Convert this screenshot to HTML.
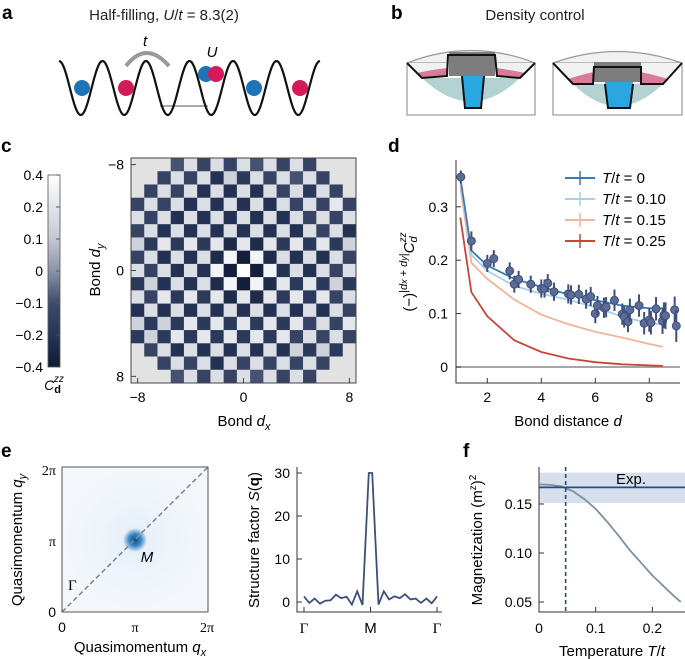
<!DOCTYPE html>
<html><head><meta charset="utf-8"><style>
html,body{margin:0;padding:0;background:#fff}
svg{display:block;font-family:"Liberation Sans",sans-serif}
</style></head><body>
<svg id="fig" width="685" height="659" viewBox="0 0 685 659" xmlns="http://www.w3.org/2000/svg">
<g font-weight="bold" font-size="19">
<text x="2" y="19">a</text>
<text x="391" y="19">b</text>
<text x="1" y="152">c</text>
<text x="388" y="152">d</text>
<text x="1" y="457">e</text>
<text x="463" y="457">f</text>
</g>
<!-- panel a -->
<g>
<text x="164" y="20" font-size="15" text-anchor="middle" fill="#222">Half-filling, <tspan font-style="italic">U</tspan>/<tspan font-style="italic">t</tspan> = 8.3(2)</text>
<line x1="160" y1="106" x2="208" y2="106" stroke="#aaa" stroke-width="2"/>
<path id="wave" fill="none" stroke="#111" stroke-width="2.2"/>
<path d="M126,66 Q146,40 169,66" fill="none" stroke="#999" stroke-width="4"/>
<text x="143" y="46" font-size="15" font-style="italic">t</text>
<text x="212" y="57" font-size="15" font-style="italic" text-anchor="middle">U</text>
<circle cx="82" cy="88" r="8" fill="#1f73b7"/>
<circle cx="126" cy="88" r="8" fill="#d6195b"/>
<circle cx="206" cy="74" r="8" fill="#1f73b7"/>
<circle cx="216" cy="74" r="8" fill="#d6195b"/>
<circle cx="254" cy="88" r="8" fill="#1f73b7"/>
<circle cx="300" cy="88" r="8" fill="#d6195b"/>
</g>
<!-- panel b -->
<g>
<text x="535" y="20" font-size="15" text-anchor="middle" fill="#222">Density control</text>
<g>
<rect x="407" y="63" width="128" height="52" fill="#fff" stroke="#999" stroke-width="1.2"/>
<path d="M407,63 Q471,38 535,63 Z" fill="#f1f1f1" stroke="#999" stroke-width="1.2"/>
<path d="M407,63 L422,78 L447,76 L497,76 L520,78 L535,63 Z" fill="#f1f1f1"/>
<path d="M422,78 Q471,125 520,78 Z" fill="#b4d2d2"/>
<path d="M422,78 L447,76 L447,68 Q430,70 417,73 Z M497,76 L520,78 L525,73 Q510,70 497,68 Z" fill="#d97a98"/>
<rect x="449" y="52" width="46" height="24" fill="#7d7d7d"/>
<path d="M463,76 L466,108 L480,108 L483,76 Z" fill="#2aa6e0"/>
<path d="M407,63 L422,78 L447,76 L448,55 L495,55 L497,76 L520,78 L535,63" fill="none" stroke="#111" stroke-width="2"/>
<path d="M462,76 L465,108 L481,108 L484,76" fill="none" stroke="#111" stroke-width="2"/>
</g>
<g>
<rect x="553" y="63" width="129" height="52" fill="#fff" stroke="#999" stroke-width="1.2"/>
<path d="M553,63 Q617,40 682,63 Z" fill="#f1f1f1" stroke="#999" stroke-width="1.2"/>
<path d="M553,63 L573,84 L663,84 L682,63 Z" fill="#f1f1f1"/>
<path d="M573,84 Q617,128 663,84 Z" fill="#b4d2d2"/>
<path d="M573,84 L594,84 L594,72 Q580,75 568,79 Z M641,84 L663,84 L668,79 Q655,75 641,72 Z" fill="#d97a98"/>
<rect x="594" y="62" width="47" height="20" fill="#7d7d7d"/>
<path d="M605,82 L608,108 L630,108 L633,82 Z" fill="#2aa6e0"/>
<path d="M553,63 L573,84 L593,84 L594,67 L641,67 L641,84 L663,84 L682,63" fill="none" stroke="#111" stroke-width="2"/>
<path d="M605,84 L608,108 L630,108 L633,84" fill="none" stroke="#111" stroke-width="2"/>
</g>
</g>
<!-- panel c -->
<g id="pc">
<defs><linearGradient id="cbg" x1="0" y1="1" x2="0" y2="0">
<stop offset="0" stop-color="#101a35"/><stop offset="0.1667" stop-color="#263556"/><stop offset="0.3333" stop-color="#3e4b6a"/><stop offset="0.5" stop-color="#8a93a8"/><stop offset="0.6667" stop-color="#c3c8d3"/><stop offset="0.8333" stop-color="#e2e4ea"/><stop offset="1" stop-color="#ffffff"/></linearGradient>
<radialGradient id="blob"><stop offset="0" stop-color="#0a4f8c"/><stop offset="0.5" stop-color="#3a86c4"/><stop offset="1" stop-color="#3a86c4" stop-opacity="0"/></radialGradient>
<radialGradient id="ebg"><stop offset="0" stop-color="#e3edf7"/><stop offset="0.5" stop-color="#eef4fa"/><stop offset="1" stop-color="#f3f7fb"/></radialGradient></defs>
<rect x="48" y="175" width="12" height="192" fill="url(#cbg)" stroke="#555" stroke-width="0.8"/>
<g id="cbticks" font-size="14" text-anchor="end"></g>
<text x="54" y="390" font-size="14" text-anchor="middle"><tspan font-style="italic">C</tspan><tspan font-weight="bold" font-size="11" dy="3">d</tspan><tspan font-style="italic" font-size="10" dx="-7" dy="-11">zz</tspan></text>
<g id="heat"></g>
<rect x="131" y="158" width="225" height="225" fill="none" stroke="#444" stroke-width="1"/>
<g id="heatticks" font-size="14"></g>
<text x="244" y="426" font-size="15" text-anchor="middle">Bond <tspan font-style="italic">d</tspan><tspan font-size="11" font-style="italic" dy="4">x</tspan></text>
<text transform="translate(100,270) rotate(-90)" font-size="15" text-anchor="middle">Bond <tspan font-style="italic">d</tspan><tspan font-size="11" font-style="italic" dy="4">y</tspan></text>
</g>
<!-- panel d -->
<g id="pd">
<g id="dplot"></g>
<text x="568" y="426" font-size="15" text-anchor="middle">Bond distance <tspan font-style="italic">d</tspan></text>
<text transform="translate(414,272) rotate(-90)" font-size="15" text-anchor="middle">(−)<tspan font-size="11" dy="-7">|<tspan font-style="italic">d</tspan><tspan font-size="9" font-style="italic">x</tspan> + <tspan font-style="italic">d</tspan><tspan font-size="9" font-style="italic">y</tspan>|</tspan><tspan font-style="italic" dy="7">C</tspan><tspan font-size="11" font-style="italic" dy="3">d</tspan><tspan font-size="10" font-style="italic" dx="-6" dy="-11">zz</tspan></text>
</g>
<!-- panel e -->
<g id="pe">
<rect x="62" y="467" width="146" height="145" fill="url(#ebg)"/>
<circle cx="135" cy="540" r="12" fill="url(#blob)"/>
<line x1="62" y1="612" x2="208" y2="467" stroke="#888" stroke-width="1.6" stroke-dasharray="5,3"/>
<rect x="62" y="467" width="146" height="145" fill="none" stroke="#555" stroke-width="1"/>
<text x="147" y="562" font-size="15" font-style="italic" text-anchor="middle">M</text>
<text x="68" y="590" font-size="15" font-family="Liberation Serif">Γ</text>
<g font-size="14" font-family="Liberation Serif" text-anchor="end">
<text x="56" y="475">2π</text><text x="56" y="546">π</text><text x="56" y="617" font-family="Liberation Sans">0</text></g>
<g font-size="14" font-family="Liberation Serif" text-anchor="middle">
<text x="62" y="632" font-family="Liberation Sans">0</text><text x="135" y="632">π</text><text x="207" y="632">2π</text></g>
<text x="140" y="652" font-size="15" text-anchor="middle">Quasimomentum <tspan font-style="italic">q</tspan><tspan font-size="11" font-style="italic" dy="4">x</tspan></text>
<text transform="translate(22,540) rotate(-90)" font-size="15" text-anchor="middle">Quasimomentum <tspan font-style="italic">q</tspan><tspan font-size="11" font-style="italic" dy="4">y</tspan></text>
<g id="splot"></g>
<text transform="translate(259,540) rotate(-90)" font-size="15" text-anchor="middle">Structure factor <tspan font-style="italic">S</tspan>(<tspan font-weight="bold">q</tspan>)</text>
</g>
<!-- panel f -->
<g id="pf">
<g id="fplot"></g>
<text x="612" y="656" font-size="15" text-anchor="middle">Temperature <tspan font-style="italic">T</tspan>/<tspan font-style="italic">t</tspan></text>
<text transform="translate(482,540) rotate(-90)" font-size="15" text-anchor="middle">Magnetization (m<tspan font-size="10" dy="-6">z</tspan><tspan dy="6">)</tspan><tspan font-size="10" dy="-6">2</tspan></text>
</g>
</svg>
<script>
const NS='http://www.w3.org/2000/svg';
function mk(p,tag,at,txt){const e=document.createElementNS(NS,tag);for(const k in at)e.setAttribute(k,at[k]);if(txt!=null)e.textContent=txt;p.appendChild(e);return e;}

// ---- panel c data ----
const cbTickLabels=['0.4','0.2','0.1','0','−0.1','−0.2','−0.4'];
const cbStopValues=[-0.4,-0.2,-0.1,0,0.1,0.2,0.4];
const cbStopColors=['#101a35','#263556','#3e4b6a','#8a93a8','#c3c8d3','#e2e4ea','#ffffff'];
const heatRows=[
"...24343424343...",
"..3434534434243..",
".343454545434443.",
"34345454545434353",
"43454545454543434",
"34545454545454345",
"34545456565454543",
"34545467876454543",
"43454578987545434",
"43545467876545434",
"43545456565454534",
"54545454545454543",
"34345454545453435",
"43454545454534343",
".345454545453434.",
"..3434543434343..",
"...24343424343..."];
const heatTickLabels=['−8','0','8'];
const heatTickValues=[-8,0,8];

// ---- panel d data ----
const dPointD=[1.02,1.41,2.0,2.24,2.83,3.0,3.16,3.61,4.0,4.12,4.24,4.47,5.0,5.1,5.39,5.66,5.83,6.0,6.08,6.32,6.4,6.71,7.0,7.07,7.21,7.28,7.62,7.81,8.0,8.06,8.25,8.49,8.54,8.6,8.94,9.0];
const dPointV=[0.356,0.236,0.194,0.203,0.180,0.155,0.164,0.155,0.147,0.147,0.157,0.141,0.137,0.135,0.136,0.127,0.132,0.100,0.115,0.111,0.112,0.125,0.099,0.094,0.085,0.107,0.115,0.082,0.088,0.083,0.109,0.086,0.097,0.096,0.107,0.077];
const dPointErr=[0.012,0.018,0.016,0.016,0.016,0.016,0.016,0.016,0.017,0.017,0.017,0.017,0.018,0.018,0.018,0.018,0.018,0.018,0.018,0.019,0.019,0.02,0.02,0.02,0.02,0.021,0.021,0.021,0.022,0.022,0.022,0.024,0.024,0.025,0.025,0.03];
const dLineD=[1,1.41,2,3,4,5,6,7,8,8.5];
const dLineT0=[0.355,0.218,0.19,0.165,0.15,0.136,0.125,0.115,0.11,0.11];
const dLineT10=[0.35,0.21,0.18,0.152,0.137,0.126,0.112,0.094,0.082,0.08];
const dLineT15=[0.338,0.195,0.165,0.126,0.098,0.08,0.066,0.055,0.043,0.038];
const dLineT25=[0.28,0.14,0.095,0.05,0.028,0.016,0.009,0.005,0.003,0.002];
const dLegend=['T/t = 0','T/t = 0.10','T/t = 0.15','T/t = 0.25'];
const dXTicks=[2,4,6,8];
const dYTicks=[0,0.1,0.2,0.3];
const dYTickLabels=['0','0.1','0.2','0.3'];

// ---- panel e data ----
const sQ=[0,0.04,0.08,0.12,0.16,0.2,0.24,0.28,0.32,0.36,0.4,0.44,0.487,0.513,0.56,0.6,0.64,0.68,0.72,0.76,0.8,0.84,0.88,0.92,0.96,1.0];
const sValues=[1.3,-0.2,0.8,-0.4,0.3,0.4,1.7,0.9,1.2,-0.6,2.5,-0.7,30,30,-0.6,2.5,0.6,1.3,0.9,1.8,0.6,0.8,-0.2,0.8,-0.3,1.3];
const sYTicks=[0,10,20,30];
const sXLabels=['Γ','M','Γ'];

// ---- panel f data ----
const fT=[0,0.02,0.04,0.06,0.08,0.10,0.12,0.14,0.16,0.18,0.20,0.22,0.24,0.25];
const fM=[0.170,0.1695,0.168,0.163,0.155,0.145,0.132,0.118,0.103,0.090,0.077,0.066,0.055,0.050];
const fExp=0.167, fExpLo=0.151, fExpHi=0.182, fTexp=0.047;
const fXTicks=[0,0.1,0.2];
const fXTickLabels=['0','0.1','0.2'];
const fYTicks=[0.05,0.10,0.15];
const fYTickLabels=['0.05','0.10','0.15'];

// ---- panel a wave ----
(function(){let d='';for(let x=59;x<=320;x+=1){const y=88-27*Math.cos((x-59)/43.5*2*Math.PI);d+=(x===59?'M':'L')+x+','+y.toFixed(1);}document.getElementById('wave').setAttribute('d',d);})();

// ---- panel c ----
function hex(c){return[parseInt(c.slice(1,3),16),parseInt(c.slice(3,5),16),parseInt(c.slice(5,7),16)];}
function cmap(v){v=Math.max(-0.4,Math.min(0.4,v));for(let i=0;i<cbStopValues.length-1;i++){if(v<=cbStopValues[i+1]){const f=(v-cbStopValues[i])/(cbStopValues[i+1]-cbStopValues[i]);const a=hex(cbStopColors[i]),b=hex(cbStopColors[i+1]);return'rgb('+a.map((x,j)=>Math.round(x+(b[j]-x)*f)).join(',')+')';}}return cbStopColors[6];}
const cbg=document.getElementById('cbticks');
cbTickLabels.forEach((l,i)=>{const y=175+i*32;mk(cbg,'line',{x1:60,y1:y,x2:56,y2:y,stroke:'#555'});const t=mk(cbg,'text',{x:43,y:y+5},l);

});
const cell=225/17;
const hx=d=>131+(d+8.5)*cell;
const hy=d=>158+(d+8.5)*cell;
const heat=document.getElementById('heat');
heatRows.forEach((row,r)=>{const dy=r-8;[...row].forEach((ch,c)=>{const dx=c-8;let fill;if(ch==='.')fill='#e2e2e2';else{const dg=+ch;const mag=dg===9?0.4:dg*0.045;fill=cmap(((dx+dy)%2===0?1:-1)*mag);}
const e=mk(heat,'rect',{x:(hx(dx)-cell/2).toFixed(2),y:(hy(dy)-cell/2).toFixed(2),width:(cell+0.3).toFixed(2),height:(cell+0.3).toFixed(2),fill:fill});

});});
const ht=document.getElementById('heatticks');
heatTickValues.forEach((v,i)=>{const x=hx(v),y=hy(v);mk(ht,'line',{x1:x,y1:383,x2:x,y2:378,stroke:'#444'});mk(ht,'line',{x1:131,y1:y,x2:136,y2:y,stroke:'#444'});
const a=mk(ht,'text',{x:x,y:402,'text-anchor':'middle'},heatTickLabels[i]);


const b=mk(ht,'text',{x:124,y:y+5,'text-anchor':'end'},heatTickLabels[i]);

});

// ---- panel d ----
const dx0=456,dx1=680,dyTop=160,dyBot=383;
const dX=d=>487.3+(d-2)*27;
const dY=v=>367-v*534;
const dp=document.getElementById('dplot');
mk(dp,'line',{x1:dx0,y1:dY(0),x2:dx1,y2:dY(0),stroke:'#888','stroke-width':1.5});
mk(dp,'path',{d:`M${dx0},${dyTop} L${dx0},${dyBot} L${dx1},${dyBot}`,fill:'none',stroke:'#333','stroke-width':1});
dXTicks.forEach(v=>{mk(dp,'line',{x1:dX(v),y1:dyBot,x2:dX(v),y2:dyBot-5,stroke:'#333'});const t=mk(dp,'text',{x:dX(v),y:402,'font-size':14,'text-anchor':'middle'},String(v));

});
dYTicks.forEach((v,i)=>{mk(dp,'line',{x1:dx0,y1:dY(v),x2:dx0+5,y2:dY(v),stroke:'#333'});const t=mk(dp,'text',{x:448,y:dY(v)+5,'font-size':14,'text-anchor':'end'},dYTickLabels[i]);

});
const dSeries=[[dLineT25,'#c8453a'],[dLineT15,'#f2b49a'],[dLineT10,'#a9d0e8'],[dLineT0,'#3a7bb5']];
const dNames=['line-t025','line-t015','line-t010','line-t0'];
dSeries.forEach((s,k)=>{const p=mk(dp,'polyline',{points:dLineD.map((d,i)=>dX(d).toFixed(1)+','+dY(s[0][i]).toFixed(1)).join(' '),fill:'none',stroke:s[1],'stroke-width':1.8});

});
dPointD.forEach((d,i)=>{const x=dX(d),v=dPointV[i],e=dPointErr[i];mk(dp,'line',{x1:x,y1:dY(v-e),x2:x,y2:dY(v+e),stroke:'#3d4f7a','stroke-width':2});
const c=mk(dp,'circle',{cx:x,cy:dY(v),r:4,fill:'#5b6c96',stroke:'#3d4f7a','stroke-width':1});

});
const legCols=['#3a7bb5','#a9d0e8','#f2b49a','#c8453a'];
dLegend.forEach((l,i)=>{const y=178+i*21;mk(dp,'line',{x1:565,y1:y,x2:595,y2:y,stroke:legCols[i],'stroke-width':2});mk(dp,'line',{x1:580,y1:y-7,x2:580,y2:y+7,stroke:legCols[i],'stroke-width':1.5});
const t=mk(dp,'text',{x:602,y:y+5,'font-size':15});


const parts=l.split(' = ');mk(t,'tspan',{'font-style':'italic'},'T');mk(t,'tspan',{},'/');mk(t,'tspan',{'font-style':'italic'},'t');mk(t,'tspan',{},' = '+parts[1]);});

// ---- panel e structure factor ----
const sp=document.getElementById('splot');
const sX=q=>304+q*133;
const sY=v=>602-v*4.3;
mk(sp,'path',{d:'M297,467 L297,612 L442,612',fill:'none',stroke:'#333','stroke-width':1});
sYTicks.forEach(v=>{mk(sp,'line',{x1:297,y1:sY(v),x2:302,y2:sY(v),stroke:'#333'});const t=mk(sp,'text',{x:290,y:sY(v)+5,'font-size':14,'text-anchor':'end'},String(v));

});
sXLabels.forEach((l,i)=>{const x=sX(i/2);mk(sp,'line',{x1:x,y1:612,x2:x,y2:607,stroke:'#333'});const t=mk(sp,'text',{x:x,y:633,'font-size':15,'text-anchor':'middle','font-family':l==='M'?'Liberation Sans':'Liberation Serif'},l);

});
const sl=mk(sp,'polyline',{points:sValues.map((v,i)=>sX(sQ[i]).toFixed(1)+','+sY(v).toFixed(1)).join(' '),fill:'none',stroke:'#3d4f7a','stroke-width':1.8});



// ---- panel f ----
const fp=document.getElementById('fplot');
const fX=t=>539+t*567;
const fY=m=>553-(m-0.10)*980;
const band=mk(fp,'rect',{x:539,y:fY(fExpHi),width:146,height:fY(fExpLo)-fY(fExpHi),fill:'#d5e0ec'});


mk(fp,'path',{d:'M539,467 L539,612 L685,612',fill:'none',stroke:'#333','stroke-width':1});
fXTicks.forEach((v,i)=>{mk(fp,'line',{x1:fX(v),y1:612,x2:fX(v),y2:607,stroke:'#333'});const t=mk(fp,'text',{x:fX(v),y:633,'font-size':14,'text-anchor':'middle'},fXTickLabels[i]);

});
fYTicks.forEach((v,i)=>{mk(fp,'line',{x1:539,y1:fY(v),x2:544,y2:fY(v),stroke:'#333'});const t=mk(fp,'text',{x:532,y:fY(v)+5,'font-size':14,'text-anchor':'end'},fYTickLabels[i]);

});
const fc=mk(fp,'polyline',{points:fT.map((t,i)=>fX(t).toFixed(1)+','+fY(fM[i]).toFixed(1)).join(' '),fill:'none',stroke:'#7f8fa6','stroke-width':1.8,'stroke-linejoin':'round'});


const fe=mk(fp,'line',{x1:539,y1:fY(fExp),x2:685,y2:fY(fExp),stroke:'#1f4f8a','stroke-width':1.8});


const fd=mk(fp,'line',{x1:fX(fTexp),y1:467,x2:fX(fTexp),y2:612,stroke:'#1f4f8a','stroke-width':1.6,'stroke-dasharray':'4,3'});


const ft=mk(fp,'text',{x:631,y:484,'font-size':15,'text-anchor':'middle'},'Exp.');


</script>
</body></html>
